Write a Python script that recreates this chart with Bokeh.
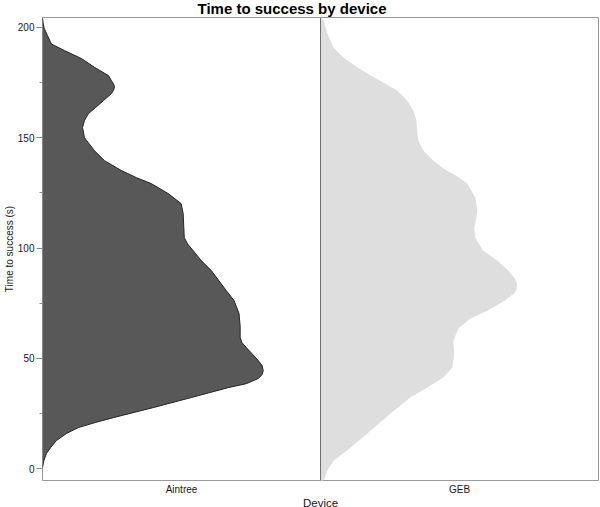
import numpy as np
from bokeh.plotting import figure
from bokeh.models import Range1d, FixedTicker, Span, Title
from bokeh.embed import file_html
from bokeh.resources import INLINE

# ---- data ----
devices = ["Aintree", "GEB"]
y_major_ticks = [0, 50, 100, 150, 200]
y_minor_ticks = [25, 75, 125, 175]

# half-violin outline: time (s) vs. relative width (fraction of a category slot)
aintree_time = [204.4, 202.2, 199.6, 196.3, 192.5, 189.5, 185.9, 181.9, 178.2, 175.9,
                174.5, 173.2, 171.6, 170.0, 166.8, 163.6, 160.9, 157.8, 154.6, 150.0,
                144.1, 139.6, 135.1, 131.9, 129.2, 124.7, 120.1, 115.6, 110.0, 104.7,
                101.8, 98.8, 94.3, 89.8, 80.7, 76.2, 70.3, 64.5, 59.4, 57.0,
                54.9, 49.0, 46.7, 44.4, 42.6, 40.8, 38.5, 36.7, 34.4, 32.2,
                27.7, 23.1, 20.9, 18.6, 15.9, 12.7, 9.5, 6.8, 3.6, 0.5]
aintree_width = [0.0, 0.002, 0.006, 0.018, 0.032, 0.079, 0.140, 0.187, 0.237, 0.248,
                 0.255, 0.259, 0.256, 0.248, 0.219, 0.190, 0.165, 0.151, 0.144, 0.151,
                 0.187, 0.223, 0.284, 0.338, 0.391, 0.452, 0.499, 0.506, 0.508, 0.510,
                 0.522, 0.542, 0.571, 0.607, 0.661, 0.689, 0.707, 0.711, 0.711, 0.718,
                 0.733, 0.776, 0.790, 0.794, 0.790, 0.776, 0.733, 0.668, 0.600, 0.535,
                 0.400, 0.255, 0.190, 0.129, 0.086, 0.050, 0.029, 0.014, 0.005, 0.0]

geb_time = [204.4, 203.1, 197.2, 190.8, 186.3, 181.8, 178.2, 175.0, 171.4, 166.8,
            162.3, 157.8, 153.2, 148.7, 144.2, 139.6, 136.0, 132.8, 129.2, 122.8,
            117.0, 113.0, 109.2, 104.7, 98.8, 94.3, 89.8, 86.5, 83.9, 81.8,
            79.8, 76.2, 71.6, 68.0, 63.5, 58.0, 52.1, 45.8, 41.3, 37.6,
            32.2, 24.9, 17.2, 9.5, 3.6, -0.9, -4.5, -6.3]
geb_width = [0.0, 0.011, 0.025, 0.047, 0.083, 0.133, 0.180, 0.226, 0.276, 0.312,
             0.334, 0.345, 0.348, 0.352, 0.370, 0.406, 0.442, 0.488, 0.528, 0.557,
             0.564, 0.560, 0.553, 0.557, 0.585, 0.636, 0.675, 0.697, 0.707, 0.706,
             0.700, 0.664, 0.600, 0.539, 0.496, 0.478, 0.481, 0.474, 0.442, 0.395,
             0.323, 0.251, 0.180, 0.108, 0.047, 0.025, 0.014, 0.007]

FONT = "Liberation Sans"

p = figure(width=600, height=507,
           x_range=Range1d(0, len(devices)), y_range=Range1d(-5.4, 204.5),
           output_backend="svg", toolbar_location=None, title=None,
           min_border_left=41, min_border_right=2, min_border_top=17, min_border_bottom=27)
p.background_fill_color = "white"
p.border_fill_color = "white"
p.outline_line_color = "#9a9a9a"
p.outline_line_width = 1
p.xgrid.grid_line_color = None
p.ygrid.grid_line_color = None

# shapes
a_left = devices.index("Aintree")
g_left = devices.index("GEB")
a_x2 = a_left + np.array(aintree_width)
g_x2 = g_left + np.array(geb_width)
p.harea(y=geb_time, x1=g_left, x2=g_x2, fill_color="#dedede")
p.harea(y=aintree_time, x1=a_left, x2=a_x2, fill_color="#585858")
p.line(x=a_x2, y=aintree_time, line_color="#262626", line_width=1, line_join="round")

# divider between the categories
p.add_layout(Span(location=1, dimension="height", line_color="#6e6e6e", line_width=1))

# axes
yax = p.yaxis[0]
yax.ticker = FixedTicker(ticks=y_major_ticks, minor_ticks=y_minor_ticks)
yax.axis_line_color = None
yax.major_tick_line_color = "#8a8a8a"
yax.minor_tick_line_color = "#8a8a8a"
yax.major_tick_out = 6
yax.major_tick_in = 0
yax.minor_tick_out = 3
yax.minor_tick_in = 0
yax.major_label_standoff = 2
yax.major_label_text_font = FONT
yax.major_label_text_font_size = "10px"
yax.major_label_text_color = "#1a1a1a"
yax.axis_label = "Time to success (s)"
yax.axis_label_text_font = FONT
yax.axis_label_text_font_size = "10px"
yax.axis_label_text_font_style = "normal"
yax.axis_label_text_color = "#1a1a1a"
yax.axis_label_standoff = 0

xax = p.xaxis[0]
xax.ticker = FixedTicker(ticks=[i + 0.5 for i in range(len(devices))])
xax.major_label_overrides = {i + 0.5: d for i, d in enumerate(devices)}
xax.axis_line_color = None
xax.major_tick_line_color = None
xax.minor_tick_line_color = None
xax.major_tick_out = 0
xax.major_tick_in = 0
xax.minor_tick_out = 0
xax.minor_tick_in = 0
xax.major_label_standoff = 3
xax.major_label_text_font = FONT
xax.major_label_text_font_size = "10px"
xax.major_label_text_color = "#1a1a1a"

# x-axis title placed below the tick labels
p.add_layout(Title(text="Device", align="center", standoff=-6,
                   text_font=FONT, text_font_size="11.5px", text_font_style="normal",
                   text_color="#1a1a1a"), "below")

# chart title
p.add_layout(Title(text="Time to success by device", align="left", offset=155,
                   vertical_align="top", standoff=-3,
                   text_font=FONT, text_font_size="15px",
                   text_font_style="bold", text_color="#000000"), "above")

open("out.html", "w").write(file_html(p, INLINE))
